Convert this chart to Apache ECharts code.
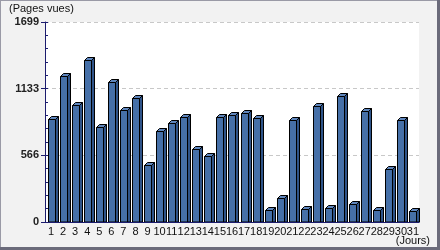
<!DOCTYPE html>
<html><head><meta charset="utf-8">
<script src="https://cdn.jsdelivr.net/npm/echarts@6/dist/echarts.min.js"></script>
<style>html,body{margin:0;padding:0;}#c{width:440px;height:250px;}</style>
</head><body><div id="c"></div>
<script>
const days = ['1','2','3','4','5','6','7','8','9','10','11','12','13','14','15','16','17','18','19','20','21','22','23','24','25','26','27','28','29','30','31'];
const pageViews = [879,1237,991,1373,811,1186,949,1057,483,771,839,892,619,559,890,907,924,881,102,203,870,110,983,119,1068,153,941,102,449,864,93];
const yTickLabels = ['0','566','1133','1699'];
const yMax = 1699;
const yTitle = '(Pages vues)';
const xTitle = '(Jours)';

const FONT = '"Liberation Sans",Arial,sans-serif';
const navy = '#1c1c6e';
const chart = echarts.init(document.getElementById('c'));
chart.setOption({
  animation: false,
  backgroundColor: '#f2f2f2',
  graphic: [
    {type:'rect', shape:{x:0,y:0,width:440,height:1}, style:{fill:'#9a9aa6'}, z:100},
    {type:'rect', shape:{x:0,y:0,width:1,height:250}, style:{fill:'#9a9aa6'}, z:100},
    {type:'rect', shape:{x:437,y:0,width:3,height:250}, style:{fill:'#6b6b7a'}, z:100},
    {type:'rect', shape:{x:0,y:247,width:440,height:3}, style:{fill:'#6b6b7a'}, z:100},
    {type:'text', left:9, top:3, style:{text:yTitle, font:'11px '+FONT, fill:'#111'}},
    {type:'text', right:10, top:235, style:{text:xTitle, font:'11px '+FONT, fill:'#111'}}
  ],
  grid: {left:45, right:21, top:22, bottom:28, show:true, backgroundColor:'#ffffff', borderWidth:0},
  xAxis: {
    type:'category', data: days, boundaryGap:true,
    axisLine:{show:true, lineStyle:{color:navy, width:1}},
    axisTick:{show:false},
    axisLabel:{margin:4, fontSize:11, fontFamily:FONT, color:'#111', interval:0},
    splitLine:{show:false}, z:10
  },
  yAxis: [{
    type:'value', min:0, max:yMax, interval:yMax/3, position:'left',
    axisLine:{show:true, lineStyle:{color:navy, width:1}},
    axisTick:{show:true, inside:false, length:4, lineStyle:{color:navy}},
    axisLabel:{margin:6, fontSize:11, fontWeight:'bold', fontFamily:FONT, color:'#222',
      formatter:(v,i)=>yTickLabels[i]},
    splitLine:{show:true, lineStyle:{color:'#c8c8c8', type:[4,3], width:1}}
  },{
    type:'value', min:0, max:yMax, interval:yMax/15, position:'left',
    axisLine:{show:false},
    axisTick:{show:true, inside:true, length:3, lineStyle:{color:navy}},
    axisLabel:{show:false}, splitLine:{show:false}
  }],
  series: [{
    type:'custom',
    data: days.map((d,i)=>[i, pageViews[i]]),
    encode:{x:0, y:1},
    renderItem: function(params, api){
      const idx = api.value(0), v = api.value(1);
      const top = api.coord([idx, v]);
      const base = api.coord([idx, 0]);
      const bw = 7, d = 3;
      const x0 = Math.round(top[0]-bw/2)+0.5, x1 = x0+bw;
      const ty = Math.round(top[1])+0.5, by = base[1];
      const stroke = {stroke:'#000', lineWidth:1};
      return {type:'group', children:[
        {type:'polygon', shape:{points:[[x1,ty],[x1+d,ty-d],[x1+d,by],[x1,by]]}, style:Object.assign({fill:'#2f5489'},stroke)},
        {type:'polygon', shape:{points:[[x0,ty],[x0+d,ty-d],[x1+d,ty-d],[x1,ty]]}, style:Object.assign({fill:'#5f86bd'},stroke)},
        {type:'rect', shape:{x:x0, y:ty, width:bw, height:by-ty}, style:Object.assign({fill:'#4670a8'},stroke)}
      ]};
    }
  }]
});
</script></body></html>
